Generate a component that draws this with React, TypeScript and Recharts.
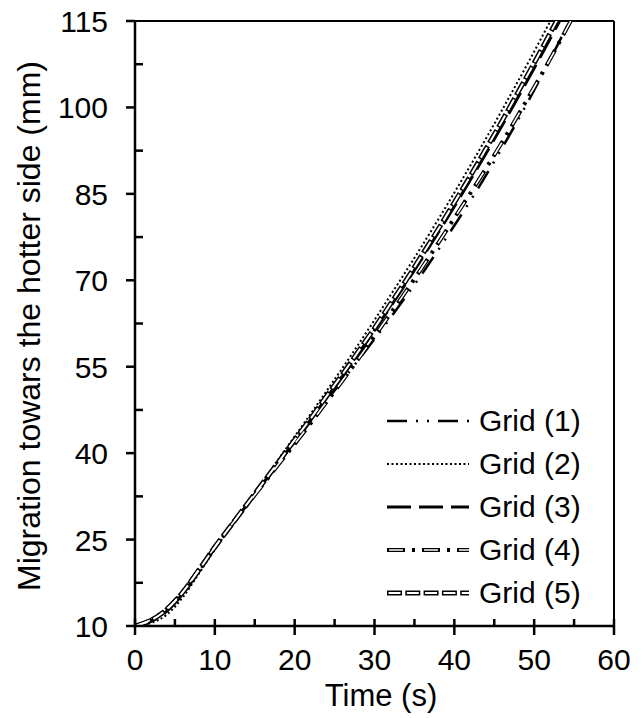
import * as React from 'react';
import { LineChart, Line, XAxis, YAxis, ReferenceLine } from 'recharts';

// time (s)
const time = [0, 2, 4, 6, 8, 10, 12, 14, 16, 18, 20, 22, 24, 26, 28, 30, 32, 34, 36, 38, 40, 42, 44, 46, 48, 50, 52, 54, 56];

// migration towards the hotter side (mm), one list per grid
const grid1 = [10, 10.8, 12.7, 15.7, 19.5, 23.5, 27.3, 31.0, 34.7, 38.3, 41.9, 45.5, 49.1, 52.6, 56.2, 59.8, 63.5, 67.3, 71.2, 75.3, 79.5, 83.8, 88.3, 93.0, 97.9, 103.0, 108.3, 113.8, 119.4];
const grid2 = [10, 10.5, 12.0, 15.0, 19.1, 23.3, 27.3, 31.2, 35.1, 39.0, 42.9, 46.8, 50.8, 54.8, 58.9, 63.1, 67.4, 71.7, 76.1, 80.6, 85.2, 89.9, 94.7, 99.6, 104.6, 109.7, 114.9, 120.1, 125.4];
const grid3 = [10, 10.8, 12.6, 15.6, 19.5, 23.5, 27.3, 31.0, 34.7, 38.4, 42.1, 45.8, 49.6, 53.4, 57.3, 61.3, 65.4, 69.6, 73.9, 78.3, 82.8, 87.4, 92.1, 96.9, 101.8, 106.8, 111.9, 117.1, 122.4];
const grid4 = [10, 11.1, 13.0, 16.0, 19.8, 23.7, 27.4, 31.0, 34.5, 38.1, 41.6, 45.2, 48.9, 52.6, 56.4, 60.3, 64.2, 68.2, 72.3, 76.5, 80.8, 85.1, 89.5, 94.0, 98.7, 103.5, 108.4, 113.5, 118.7];
const grid5 = [10, 11.0, 12.9, 15.9, 19.7, 23.7, 27.4, 31.1, 34.8, 38.5, 42.3, 46.0, 49.9, 53.7, 57.7, 61.7, 65.9, 70.1, 74.5, 78.9, 83.5, 88.1, 92.9, 97.7, 102.7, 107.7, 112.9, 118.1, 123.4];

const xTicks = [0, 5, 10, 15, 20, 25, 30, 35, 40, 45, 50, 55, 60];
const yTicks = [10, 17.5, 25, 32.5, 40, 47.5, 55, 62.5, 70, 77.5, 85, 92.5, 100, 107.5, 115];
const yMajor = [10, 25, 40, 55, 70, 85, 100, 115];

const legendLabels = ['Grid (1)', 'Grid (2)', 'Grid (3)', 'Grid (4)', 'Grid (5)'];

const data = time.map((t, i) => ({
  t,
  g1: grid1[i],
  g2: grid2[i],
  g3: grid3[i],
  g4: grid4[i],
  g5: grid5[i],
}));

const FONT = 'Arial, "Liberation Sans", sans-serif';

// outer/inner strokes so the hollow styles can be drawn as two lines
const STYLES = [
  { outer: { width: 2.5, dash: '20 9 2 9 2 9' } },
  { outer: { width: 2, dash: '2 2.5' } },
  { outer: { width: 3, dash: '24 8' } },
  { outer: { width: 4, dash: '18 7 3 7' }, inner: { width: 1.6, dash: '0 2 14 19' } },
  { outer: { width: 5, dash: '15 3.3' }, inner: { width: 2, dash: '0 1.5 12 4.8' } },
];

const XTick = (props: any) => {
  const { x, y, payload } = props;
  const major = payload.value % 10 === 0;
  return (
    <g>
      {major ? (
        <line x1={x} x2={x} y1={y - 7} y2={y + 9} stroke="#000" strokeWidth={2.5} />
      ) : (
        <line x1={x} x2={x} y1={y - 7} y2={y} stroke="#000" strokeWidth={2.5} />
      )}
      {major && (
        <text x={x} y={y + 44} textAnchor="middle" fontSize={30} fontFamily={FONT} fill="#000">
          {payload.value}
        </text>
      )}
    </g>
  );
};

const YTick = (props: any) => {
  const { x, y, payload } = props;
  const major = yMajor.includes(payload.value);
  return (
    <g>
      {major ? (
        <line x1={x - 9} x2={x} y1={y} y2={y} stroke="#000" strokeWidth={2.5} />
      ) : (
        <line x1={x} x2={x + 8} y1={y} y2={y} stroke="#000" strokeWidth={2.5} />
      )}
      {major && (
        <text x={x - 27} y={y + 11} textAnchor="end" fontSize={30} fontFamily={FONT} fill="#000">
          {payload.value}
        </text>
      )}
    </g>
  );
};

function LegendBox() {
  return (
    <div style={{ position: 'absolute', left: 385, top: 399, width: 240 }}>
      {legendLabels.map((label, i) => {
        const s = STYLES[i];
        return (
          <div key={label} style={{ display: 'flex', alignItems: 'center', height: 43 }}>
            <svg width={86} height={20} style={{ flex: 'none' }}>
              <line x1={2} x2={84} y1={10} y2={10} stroke="#000" strokeWidth={s.outer.width} strokeDasharray={s.outer.dash} />
              {s.inner && (
                <line x1={2} x2={84} y1={10} y2={10} stroke="#fff" strokeWidth={s.inner.width} strokeDasharray={s.inner.dash} />
              )}
            </svg>
            <span style={{ fontFamily: FONT, fontSize: 30, marginLeft: 8, lineHeight: '30px' }}>{label}</span>
          </div>
        );
      })}
    </div>
  );
}

export default function App() {
  const keys = ['g1', 'g2', 'g3', 'g4', 'g5'];
  return (
    <div style={{ position: 'absolute', left: 0, top: 0, width: 644, height: 718, background: '#fff' }}>
      <LineChart width={644} height={718} data={data} margin={{ top: 21, right: 30, bottom: 0, left: 0 }}>
        <XAxis
          dataKey="t"
          type="number"
          domain={[0, 60]}
          ticks={xTicks}
          interval={0}
          height={92}
          tickSize={0}
          tickMargin={0}
          tick={<XTick />}
          axisLine={{ stroke: '#000', strokeWidth: 2.5 }}
          label={{
            value: 'Time (s)',
            content: () => (
              <text x={381} y={706} textAnchor="middle" fontSize={31} fontFamily={FONT} fill="#000">
                Time (s)
              </text>
            ),
          }}
        />
        <YAxis
          type="number"
          domain={[10, 115]}
          ticks={yTicks}
          interval={0}
          allowDataOverflow
          width={135}
          tickSize={0}
          tickMargin={0}
          tick={<YTick />}
          axisLine={{ stroke: '#000', strokeWidth: 2.5 }}
          label={{
            value: 'Migration towars the hotter side (mm)',
            content: () => (
              <text
                x={40}
                y={326}
                transform="rotate(-90 40 326)"
                textAnchor="middle"
                fontSize={32}
                fontFamily={FONT}
                fill="#000"
              >
                Migration towars the hotter side (mm)
              </text>
            ),
          }}
        />
        <ReferenceLine y={115} stroke="#000" strokeWidth={2} />
        <ReferenceLine x={60} stroke="#000" strokeWidth={2} />
        {keys.map((k, i) => (
          <Line
            key={k}
            dataKey={k}
            type="monotone"
            stroke="#000"
            strokeWidth={STYLES[i].outer.width}
            strokeDasharray={STYLES[i].outer.dash}
            dot={false}
            activeDot={false}
            isAnimationActive={false}
          />
        ))}
        {keys.map((k, i) =>
          STYLES[i].inner ? (
            <Line
              key={k + '-in'}
              dataKey={k}
              type="monotone"
              stroke="#fff"
              strokeWidth={STYLES[i].inner!.width}
              strokeDasharray={STYLES[i].inner!.dash}
              dot={false}
              activeDot={false}
              legendType="none"
              isAnimationActive={false}
            />
          ) : null
        )}
      </LineChart>
      <LegendBox />
    </div>
  );
}
